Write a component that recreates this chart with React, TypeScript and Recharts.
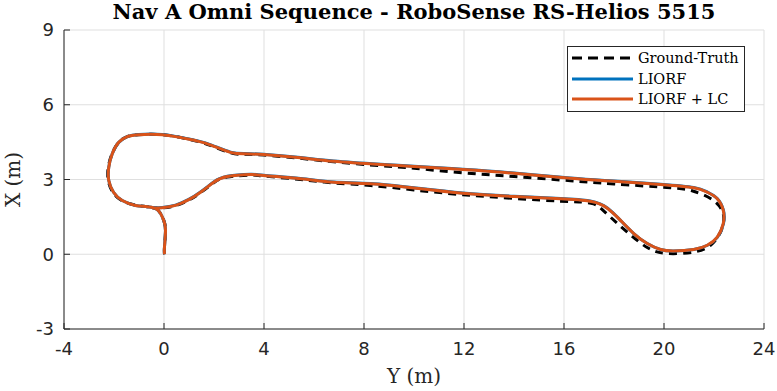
import React from "react";
import {
    LineChart,
    Line,
    XAxis,
    YAxis,
    CartesianGrid,
} from "recharts";

// [Y (m), X (m)] pairs
const groundTruth: [number, number][] = [
    [0.02, 0.0], [0.02, 0.29], [0.06, 0.96], [-0.01, 1.36], [-0.14, 1.64], [-0.34, 1.84],
    [-0.74, 1.92], [-1.14, 1.97], [-1.67, 2.14], [-2.04, 2.48], [-2.23, 2.96], [-2.23, 3.49],
    [-2.08, 4.03], [-1.81, 4.49], [-1.47, 4.72], [-1.01, 4.8], [-0.07, 4.8], [0.73, 4.67],
    [1.39, 4.52], [1.93, 4.34], [2.66, 4.07], [3.2, 4.01], [3.99, 3.98], [5.46, 3.85], [6.79, 3.71],
    [8.66, 3.55], [10.0, 3.45], [11.94, 3.27], [14.0, 3.12], [16.26, 2.95], [18.0, 2.82],
    [20.26, 2.67], [21.18, 2.53], [21.98, 2.16], [22.38, 1.56], [22.26, 0.89], [21.86, 0.36],
    [21.19, 0.09], [20.13, 0.03], [19.33, 0.27], [18.53, 0.89], [17.86, 1.49], [17.5, 1.82],
    [17.18, 2.02], [16.6, 2.1], [15.86, 2.13], [14.0, 2.24], [11.95, 2.39], [10.0, 2.58],
    [8.26, 2.76], [6.79, 2.86], [5.46, 3.0], [3.99, 3.14], [3.46, 3.18], [2.53, 3.1],
    [1.99, 2.87], [1.46, 2.47], [0.99, 2.17], [0.46, 1.95], [-0.07, 1.86], [-0.46, 1.86],
];

const liorf: [number, number][] = [
    [0.02, 0.0], [0.02, 0.29], [0.06, 0.96], [-0.01, 1.36], [-0.14, 1.64], [-0.34, 1.84],
    [-0.74, 1.92], [-1.14, 1.96], [-1.67, 2.16], [-2.02, 2.49], [-2.21, 2.96], [-2.21, 3.49],
    [-2.07, 4.03], [-1.81, 4.49], [-1.47, 4.72], [-1.01, 4.81], [-0.07, 4.81], [0.73, 4.68],
    [1.39, 4.54], [1.93, 4.37], [2.66, 4.1], [3.2, 4.04], [3.99, 4.01], [5.46, 3.88], [6.79, 3.74],
    [8.66, 3.61], [10.0, 3.53], [11.95, 3.41], [14.0, 3.26], [16.26, 3.06], [18.0, 2.94],
    [19.86, 2.81], [21.19, 2.68], [21.73, 2.5], [22.13, 2.24], [22.38, 1.76], [22.38, 1.23],
    [22.14, 0.69], [21.74, 0.36], [21.19, 0.19], [20.39, 0.13], [19.86, 0.19], [19.33, 0.43],
    [18.79, 0.83], [18.26, 1.36], [17.93, 1.69], [17.59, 1.95], [17.25, 2.09], [16.93, 2.16],
    [16.4, 2.21], [15.86, 2.24], [14.0, 2.33], [11.95, 2.46], [10.0, 2.67], [8.26, 2.84],
    [6.79, 2.9], [5.46, 3.04], [3.99, 3.17], [3.46, 3.21], [2.53, 3.13], [1.99, 2.9],
    [1.46, 2.5], [0.99, 2.2], [0.46, 1.97], [-0.07, 1.88], [-0.46, 1.87],
];

const liorfLc: [number, number][] = [
    [0.02, 0.0], [0.02, 0.29], [0.06, 0.96], [-0.01, 1.36], [-0.14, 1.64], [-0.34, 1.84],
    [-0.74, 1.92], [-1.14, 1.96], [-1.67, 2.16], [-2.02, 2.49], [-2.21, 2.96], [-2.21, 3.49],
    [-2.07, 4.03], [-1.81, 4.49], [-1.47, 4.72], [-1.01, 4.8], [-0.07, 4.8], [0.73, 4.67],
    [1.39, 4.53], [1.93, 4.36], [2.66, 4.09], [3.2, 4.03], [3.99, 4.0], [5.46, 3.87], [6.79, 3.73],
    [8.66, 3.6], [10.0, 3.52], [11.95, 3.4], [14.0, 3.25], [16.26, 3.05], [18.0, 2.93],
    [19.86, 2.8], [21.19, 2.67], [21.73, 2.49], [22.13, 2.23], [22.37, 1.76], [22.37, 1.23],
    [22.13, 0.69], [21.73, 0.36], [21.19, 0.19], [20.39, 0.13], [19.86, 0.19], [19.33, 0.43],
    [18.79, 0.83], [18.26, 1.36], [17.93, 1.68], [17.59, 1.94], [17.25, 2.08], [16.93, 2.15],
    [16.4, 2.2], [15.86, 2.23], [14.0, 2.32], [11.95, 2.45], [10.0, 2.66], [8.26, 2.83],
    [6.79, 2.89], [5.46, 3.03], [3.99, 3.16], [3.46, 3.2], [2.53, 3.12], [1.99, 2.89],
    [1.46, 2.49], [0.99, 2.19], [0.46, 1.96], [-0.07, 1.87], [-0.46, 1.86],
];

const xTicks = [-4, 0, 4, 8, 12, 16, 20, 24];
const yTicks = [-3, 0, 3, 6, 9];

const toRows = (pts: [number, number][]) => pts.map(([ym, xm]) => ({ ym, xm }));

const AXIS = "#262626";
const GRID = "#dfdfdf";
const BLUE = "#0072BD";
const ORANGE = "#D95319";

const legendItems = [
    { label: "Ground-Truth", color: "#000", dash: "10 6" },
    { label: "LIORF", color: BLUE, dash: undefined },
    { label: "LIORF + LC", color: ORANGE, dash: undefined },
];

function LegendBox() {
    return (
        <div
            style={{
                position: "absolute",
                left: 567,
                top: 46,
                border: "1px solid #262626",
                background: "#fff",
                width: 178,
                height: 66,
                boxSizing: "border-box",
                fontFamily: "DejaVu Serif",
                fontSize: 14.5,
                color: "#000",
                paddingTop: 1,
            }}
        >
            {legendItems.map((it) => (
                <div key={it.label} style={{ display: "flex", alignItems: "center", height: 20.5 }}>
                    <svg width={70} height={10} style={{ flex: "none" }}>
                        <line
                            x1={4}
                            x2={65}
                            y1={5}
                            y2={5}
                            stroke={it.color}
                            strokeWidth={3}
                            strokeDasharray={it.dash}
                        />
                    </svg>
                    <span style={{ lineHeight: "20px" }}>{it.label}</span>
                </div>
            ))}
        </div>
    );
}

export default function App() {
    return (
        <div style={{ position: "absolute", left: 0, top: 0, width: 777, height: 391, background: "#fff" }}>
            <LineChart width={777} height={391} margin={{ top: 30, right: 13, left: 0, bottom: 0 }}>
                <CartesianGrid stroke={GRID} strokeWidth={1} />
                <XAxis
                    type="number"
                    dataKey="ym"
                    domain={[-4, 24]}
                    ticks={xTicks}
                    interval={0}
                    allowDataOverflow
                    height={62}
                    stroke={AXIS}
                    tickSize={-6}
                    tickMargin={19}
                    tick={{ fill: AXIS, fontSize: 18, fontFamily: "DejaVu Sans" }}
                    label={{
                        content: ({ viewBox }: any) => (
                            <text
                                x={viewBox.x + viewBox.width / 2}
                                y={viewBox.y + 54}
                                textAnchor="middle"
                                fontFamily="DejaVu Serif"
                                fontSize={20}
                                fill={AXIS}
                            >
                                Y (m)
                            </text>
                        ),
                    }}
                />
                <YAxis
                    type="number"
                    dataKey="xm"
                    domain={[-3, 9]}
                    ticks={yTicks}
                    interval={0}
                    allowDataOverflow
                    width={64}
                    stroke={AXIS}
                    tickSize={-6}
                    tickMargin={16}
                    tick={{ fill: AXIS, fontSize: 18, fontFamily: "DejaVu Sans" }}
                    label={{
                        content: ({ viewBox }: any) => {
                            const cx = 20;
                            const cy = viewBox.y + viewBox.height / 2;
                            return (
                                <text
                                    x={cx}
                                    y={cy}
                                    transform={`rotate(-90 ${cx} ${cy})`}
                                    textAnchor="middle"
                                    fontFamily="DejaVu Serif"
                                    fontSize={20}
                                    fill={AXIS}
                                >
                                    X (m)
                                </text>
                            );
                        },
                    }}
                />
                <Line
                    data={toRows(groundTruth)}
                    dataKey="xm"
                    name="Ground-Truth"
                    type="natural"
                    stroke="#000"
                    strokeWidth={3}
                    strokeDasharray="8 6"
                    dot={false}
                    isAnimationActive={false}
                />
                <Line
                    data={toRows(liorf)}
                    dataKey="xm"
                    name="LIORF"
                    type="natural"
                    stroke={BLUE}
                    strokeWidth={3}
                    dot={false}
                    isAnimationActive={false}
                />
                <Line
                    data={toRows(liorfLc)}
                    dataKey="xm"
                    name="LIORF + LC"
                    type="natural"
                    stroke={ORANGE}
                    strokeWidth={3}
                    dot={false}
                    isAnimationActive={false}
                />
            </LineChart>
            <div
                style={{
                    position: "absolute",
                    left: 64,
                    width: 700,
                    top: 0,
                    textAlign: "center",
                    fontFamily: "DejaVu Serif",
                    fontWeight: "bold",
                    fontSize: 21,
                    color: "#000",
                    lineHeight: "24px",
                }}
            >
                Nav A Omni Sequence - RoboSense RS-Helios 5515
            </div>
            <LegendBox />
        </div>
    );
}
